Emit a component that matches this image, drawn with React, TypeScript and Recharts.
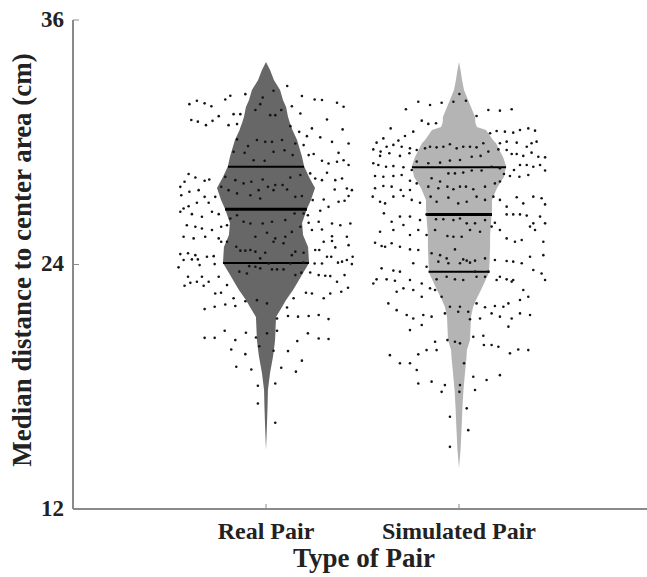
import React from 'react';
import { ComposedChart, Area, Scatter, XAxis, YAxis, ReferenceLine } from 'recharts';

const categories = ['Real Pair', 'Simulated Pair'];
const categoryPositions = [1, 2];
const yTicks = [12, 24, 36];

// violin outline: value levels and half widths (in x units) for each group
const violinLevels = [33.94, 33.55, 33.06, 32.56, 32.07, 31.73, 31.25, 30.94, 30.75, 30.6, 30.11, 29.95, 29.28, 28.83, 28.29, 27.75, 27.17, 26.72, 26.04, 25.45, 24.86, 24.07, 23.58, 23.08, 22.75, 22.26, 21.91, 21.42, 20.29, 19.8, 19.46, 18.67, 17.84, 17.01, 15.88, 14.9, 14.0];
const realHalfWidth = [0, 0.021, 0.041, 0.073, 0.088, 0.104, 0.114, 0.124, 0.132, 0.137, 0.161, 0.166, 0.187, 0.197, 0.223, 0.254, 0.233, 0.212, 0.187, 0.192, 0.218, 0.223, 0.192, 0.161, 0.14, 0.104, 0.083, 0.052, 0.047, 0.041, 0.036, 0.021, 0.01, 0.008, 0.004, 0, 0];
const simHalfWidth = [0, 0.008, 0.016, 0.026, 0.047, 0.062, 0.083, 0.085, 0.093, 0.14, 0.176, 0.192, 0.228, 0.244, 0.233, 0.197, 0.171, 0.171, 0.166, 0.161, 0.161, 0.158, 0.155, 0.13, 0.114, 0.088, 0.073, 0.062, 0.057, 0.041, 0.039, 0.031, 0.023, 0.018, 0.013, 0.008, 0];

// quartiles (Q1, median, Q3) and violin half width at them
const realQuartiles = [24.07, 26.71, 28.8];
const realQuartileHalfWidth = [0.223, 0.212, 0.197];
const simQuartiles = [23.65, 26.46, 28.77];
const simQuartileHalfWidth = [0.158, 0.171, 0.244];

// jittered observations: [offset from category centre, value]
const realJitter: [number, number][] = [
  [0.11, 32.76], [-0.397, 31.87], [-0.358, 32.04], [-0.318, 31.91], [-0.283, 31.77], [-0.211, 32.1], [-0.185, 32.28], [-0.107, 32.36], [-0.017, 32.2], [0.039, 32.53],
  [0.186, 32.27], [0.252, 32.1], [0.29, 32.07], [0.368, 31.94], [0.402, 31.74], [0.134, 31.77], [0.178, 31.41], [0.048, 31.33], [0.022, 31.33], [0.079, 31.58],
  [-0.03, 31.87], [-0.055, 31.58], [-0.133, 31.38], [-0.168, 31.38], [-0.245, 31.28], [-0.277, 31.05], [-0.311, 30.84], [-0.353, 31.01], [-0.387, 31.09], [-0.194, 30.84],
  [-0.15, 30.89], [0.126, 30.79], [0.172, 30.51], [0.238, 30.68], [0.316, 31.12], [0.397, 30.63], [0.428, 29.94], [0.342, 30.02], [0.281, 30.24], [0.212, 30.3],
  [0.195, 29.86], [0.152, 29.94], [0.083, 30.11], [0.031, 30.02], [-0.004, 30.02], [-0.047, 30.11], [-0.093, 29.81], [-0.15, 30.14], [-0.168, 29.53], [-0.111, 29.48],
  [-0.064, 29.12], [-0.007, 29.09], [0.039, 29.53], [0.096, 29.61], [0.138, 29.37], [0.221, 29.37], [0.247, 29.42], [0.376, 29.48], [0.402, 29.12], [0.428, 28.88],
  [0.29, 29.09], [0.324, 28.96], [0.368, 29.04], [0.316, 28.5], [0.359, 28.14], [0.394, 28.22], [0.419, 27.73], [0.445, 27.65], [0.356, 27.68], [0.29, 28.14],
  [0.255, 28.22], [0.229, 28.47], [0.178, 28.39], [0.126, 28.27], [0.086, 27.9], [0.048, 27.9], [0.01, 27.81], [-0.017, 28.17], [-0.038, 27.65], [-0.076, 28.06],
  [-0.116, 27.98], [-0.159, 28.14], [-0.211, 28.3], [-0.232, 27.81], [-0.194, 27.65], [-0.15, 27.49], [-0.081, 27.4], [-0.03, 27.24], [0.039, 27.65], [0.109, 27.68],
  [0.152, 27.32], [0.186, 27.36], [-0.294, 28.17], [-0.318, 28.11], [-0.366, 28.27], [-0.401, 28.44], [-0.422, 28.06], [-0.444, 27.81], [-0.439, 27.4], [-0.397, 27.57],
  [-0.349, 27.65], [-0.318, 27.32], [-0.263, 27.32], [-0.297, 27.03], [-0.358, 27.03], [-0.401, 26.86], [-0.427, 26.75], [-0.444, 26.59], [-0.384, 26.47], [-0.332, 26.34],
  [-0.28, 26.59], [-0.245, 26.47], [-0.185, 26.26], [-0.15, 26.42], [-0.116, 26.1], [-0.081, 26.01], [-0.017, 26.01], [0.031, 26.1], [0.1, 26.18], [0.148, 26.5],
  [0.195, 26.5], [0.217, 26.42], [0.281, 26.64], [0.324, 26.83], [0.376, 27.08], [0.407, 27.13], [0.428, 27.36], [0.299, 27.19], [0.242, 27.16], [0.221, 26.05],
  [0.273, 26.1], [0.342, 26.01], [0.385, 25.93], [0.419, 25.36], [0.437, 26.01], [-0.41, 25.93], [-0.366, 25.85], [-0.332, 25.77], [-0.28, 25.69], [-0.232, 25.85],
  [-0.202, 25.93], [-0.427, 25.36], [-0.375, 25.28], [-0.315, 25.36], [-0.245, 25.28], [-0.055, 25.36], [0.005, 25.56], [0.048, 25.28], [0.1, 25.36], [0.134, 25.6],
  [0.178, 25.85], [0.238, 25.69], [0.29, 25.72], [0.342, 25.39],
  [0.048, 16.23], [-0.042, 17.18], [-0.042, 18.05], [0.048, 18.16], [-0.154, 18.98], [-0.076, 18.85], [0.079, 18.93], [0.155, 18.74], [0.186, 19.28], [-0.107, 19.6],
  [-0.18, 19.83], [0.039, 19.77], [0.114, 19.75], [-0.159, 20.29], [0.162, 20.24], [-0.318, 20.4], [-0.266, 20.4], [-0.214, 20.75], [-0.104, 20.65], [-0.052, 20.42],
  [0.005, 20.62], [0.057, 20.75], [0.217, 20.62], [0.273, 20.37], [0.324, 20.34], [-0.035, 19.99], [-0.318, 21.81], [-0.266, 21.93], [-0.211, 22.04], [-0.159, 21.96],
  [0.114, 21.47], [0.166, 21.44], [0.221, 21.47], [0.273, 21.52], [0.324, 21.32], [0.057, 21.35], [0.005, 22.09], [0.109, 21.89], [-0.107, 22.2], [-0.047, 22.25],
  [-0.263, 22.58], [-0.233, 22.61], [0.143, 22.34], [0.207, 22.61], [0.238, 22.58], [0.299, 22.34], [0.333, 22.58], [0.39, 22.66], [0.425, 22.86], [-0.168, 22.34],
  [-0.202, 22.99], [-0.323, 22.96], [-0.358, 23.15], [-0.392, 23.1], [-0.422, 22.96], [-0.297, 23.15], [-0.332, 23.4], [-0.404, 23.4], [-0.245, 23.4], [-0.138, 23.65],
  [-0.099, 23.56], [0.031, 23.76], [0.057, 23.76], [0.091, 23.76], [0.152, 23.48], [0.183, 23.6], [0.229, 23.61], [0.273, 23.48], [0.307, 23.45], [0.333, 23.43],
  [0.368, 23.15], [0.407, 23.48], [-0.453, 23.86], [-0.444, 24.51], [-0.404, 24.55], [-0.366, 24.46], [-0.353, 24.25], [-0.384, 24.25], [-0.427, 24.22], [-0.344, 23.97],
  [-0.306, 24.38], [-0.271, 24.41], [-0.266, 24.02], [-0.232, 25.12], [-0.202, 25.12], [-0.154, 24.87], [-0.133, 24.68], [-0.107, 24.68], [-0.081, 24.71], [-0.055, 24.63],
  [-0.03, 24.3], [0.014, 24.05], [-0.087, 23.92], [-0.055, 23.89], [-0.03, 23.81], [0.134, 24.46], [0.152, 24.63], [0.195, 24.58], [0.195, 24.09], [0.126, 24.05],
  [-0.004, 24.58], [0.039, 25.12], [0.091, 25.04], [0.255, 24.71], [0.276, 24.71], [0.252, 24.05], [0.29, 24.05], [0.316, 24.38], [0.338, 24.38], [0.373, 24.09],
  [0.394, 24.14], [0.419, 24.22], [0.445, 24.02], [0.449, 24.38], [0.428, 24.95], [0.359, 24.84], [0.299, 25.12], [0.342, 25.15],
];

const simJitter: [number, number][] = [
  [0.002, 32.37], [-0.029, 31.99], [0.036, 32.04], [-0.211, 31.99], [-0.15, 31.83], [-0.09, 31.94], [-0.275, 31.62], [0.152, 31.58], [0.212, 31.55], [0.273, 31.62],
  [0.091, 31.29], [-0.193, 31.06], [-0.159, 30.9], [-0.119, 30.93], [-0.354, 30.68], [-0.237, 30.52], [-0.28, 30.31], [-0.314, 30.08], [-0.392, 30.19], [-0.427, 29.98],
  [-0.444, 29.65], [-0.406, 29.54], [-0.375, 29.78], [-0.34, 29.87], [-0.297, 29.78], [-0.254, 29.7], [-0.219, 29.62], [-0.176, 29.7], [-0.15, 29.78], [-0.116, 29.75],
  [-0.081, 29.78], [-0.047, 29.9], [-0.012, 29.7], [0.022, 29.78], [0.057, 29.78], [0.091, 29.75], [0.126, 29.95], [0.161, 30.44], [0.195, 30.55], [0.238, 30.52],
  [0.281, 30.47], [0.316, 30.6], [0.359, 30.68], [0.394, 30.57], [0.247, 30.03], [0.212, 29.95], [0.299, 29.98], [0.351, 29.78], [0.376, 29.95], [0.402, 30.03],
  [0.273, 29.42], [0.299, 29.42], [0.333, 29.33], [0.376, 29.49], [0.411, 29.29], [0.446, 29.26], [0.247, 29.62], [0.204, 29.65], [0.152, 29.54], [0.112, 29.33],
  [0.066, 29.29], [0.005, 29.13], [-0.047, 29.1], [-0.098, 29.0], [-0.159, 28.97], [-0.219, 29.05], [-0.257, 29.46], [-0.306, 29.33], [-0.361, 29.46], [-0.409, 29.33],
  [-0.444, 28.97], [-0.418, 28.88], [-0.378, 28.8], [-0.34, 28.83], [-0.288, 28.77], [-0.245, 28.64], [-0.435, 28.34], [-0.392, 28.31], [-0.34, 28.34], [-0.297, 28.39],
  [-0.254, 28.11], [-0.219, 27.98], [-0.142, 28.23], [-0.098, 28.07], [-0.055, 28.47], [-0.021, 28.47], [0.022, 28.51], [0.066, 28.61], [0.117, 28.61], [0.169, 28.8],
  [0.212, 28.72], [0.233, 28.44], [0.285, 28.64], [0.316, 28.88], [0.351, 28.88], [0.385, 28.8], [0.42, 28.88], [0.446, 28.61], [0.359, 28.39], [0.313, 28.31],
  [0.264, 28.34], [0.212, 28.07], [0.186, 27.98], [0.135, 27.82], [0.074, 27.69], [0.036, 27.82], [0.005, 27.82], [-0.029, 27.69], [-0.06, 27.82], [-0.107, 27.74],
  [-0.159, 27.82], [-0.254, 27.66], [-0.302, 27.66], [-0.349, 27.82], [-0.392, 27.85], [-0.435, 27.74], [-0.447, 27.33], [-0.409, 27.08], [-0.383, 27.0], [-0.34, 27.33],
  [-0.288, 27.36], [-0.245, 27.17], [-0.202, 27.03], [-0.147, 27.33], [-0.116, 27.08], [-0.055, 27.28], [-0.004, 27.0], [0.04, 27.08], [0.091, 27.33], [0.135, 27.17],
  [0.178, 27.33], [0.212, 27.17], [0.247, 26.84], [0.299, 27.3], [0.333, 27.0], [0.385, 27.33], [0.428, 27.25], [0.446, 26.95], [-0.389, 26.51], [-0.349, 26.1],
  [-0.306, 26.35], [-0.254, 26.35], [-0.202, 26.18], [-0.168, 26.46], [-0.119, 26.22], [-0.081, 26.22], [-0.029, 26.18], [0.005, 26.26], [0.04, 26.02], [0.083, 26.02],
  [0.135, 26.18], [0.186, 26.05], [0.247, 26.46], [0.281, 26.46], [0.316, 26.46], [0.351, 26.4], [0.385, 26.02], [0.42, 26.35], [0.446, 26.02], [-0.409, 25.61],
  [-0.34, 25.69], [-0.288, 25.94], [-0.254, 25.45], [-0.211, 25.69], [-0.168, 25.45], [-0.124, 25.69], [-0.06, 25.4], [-0.029, 25.36], [0.014, 25.36], [0.057, 25.69],
  [0.109, 25.61], [0.169, 25.86], [0.212, 25.69], [0.247, 25.28], [0.29, 25.12], [0.325, 25.2], [0.368, 25.86], [0.394, 25.69], [0.437, 25.12], [-0.435, 25.07],
  [-0.401, 24.91], [-0.383, 24.87], [-0.349, 25.04], [-0.306, 24.87], [-0.254, 24.74], [-0.211, 24.71], [-0.142, 24.55], [-0.098, 24.46], [-0.064, 24.3], [-0.021, 24.74],
  [0.022, 24.25], [0.057, 24.09], [0.083, 24.19], [0.135, 24.3], [0.186, 24.22], [0.247, 24.17], [0.281, 24.14], [0.325, 24.06], [0.368, 24.38], [0.437, 24.46],
  [-0.401, 23.81], [-0.34, 23.7], [-0.306, 23.65], [-0.237, 24.06], [-0.168, 23.89], [-0.107, 24.14], [-0.055, 24.06], [0.005, 24.06], [0.04, 24.19], [0.083, 23.65],
  [0.152, 23.65], [0.212, 23.4], [0.247, 23.27], [0.281, 23.24], [-0.427, 23.27], [-0.444, 23.07], [-0.375, 23.27], [-0.332, 23.2], [-0.288, 22.83], [-0.254, 23.24],
  [-0.193, 23.07], [-0.15, 22.83], [-0.116, 23.27], [-0.064, 23.4], [-0.021, 23.27], [0.022, 23.24], [0.091, 23.4], [0.135, 23.4], [0.195, 23.24], [0.273, 23.16],
  [0.333, 22.75], [0.385, 23.73], [0.428, 23.56], [0.446, 23.24], [0.359, 22.42], [0.316, 22.26], [0.256, 22.09], [0.23, 21.93], [0.186, 21.96], [0.135, 21.9],
  [0.091, 22.09], [0.048, 21.68], [0.005, 21.93], [-0.047, 21.93], [-0.09, 22.42], [-0.124, 22.75], [-0.193, 22.42], [-0.237, 22.75], [-0.323, 22.66], [-0.366, 22.09],
  [-0.323, 21.76], [-0.271, 21.52], [-0.237, 21.35], [-0.185, 21.52], [-0.142, 21.44], [-0.073, 21.6], [-0.004, 21.68], [0.057, 21.31], [0.109, 21.35], [0.169, 21.6],
  [0.212, 21.44], [0.273, 21.35], [0.316, 21.6], [0.368, 21.52], [0.256, 20.95], [-0.254, 20.78], [-0.193, 21.03], [-0.358, 19.55], [-0.306, 19.15], [-0.254, 19.15],
  [-0.211, 19.59], [-0.168, 19.8], [-0.116, 19.8], [-0.06, 20.29], [-0.021, 20.21], [0.005, 20.13], [0.074, 20.45], [0.126, 20.5], [0.129, 20.05], [0.169, 20.05],
  [0.204, 19.96], [0.264, 19.64], [0.307, 19.83], [0.359, 19.8], [-0.124, 20.21], [-0.219, 18.82], [-0.211, 18.16], [-0.142, 18.25], [-0.073, 18.08], [-0.09, 17.75],
  [0.005, 18.08], [0.002, 17.75], [0.083, 17.84], [0.074, 18.49], [0.143, 18.33], [0.212, 18.57], [0.04, 16.94], [-0.047, 16.53], [0.048, 15.87], [-0.047, 15.05],
  [0.026, 19.15],
];

const REAL_FILL = '#676767';
const SIM_FILL = '#b4b4b4';
const AXIS_COLOR = '#8a8a8a';
const FONT = '"Liberation Serif", "Times New Roman", serif';

const violinData = violinLevels.map((y, i) => ({
  y,
  real: [categoryPositions[0] - realHalfWidth[i], categoryPositions[0] + realHalfWidth[i]],
  sim: [categoryPositions[1] - simHalfWidth[i], categoryPositions[1] + simHalfWidth[i]],
}));

const realPoints = realJitter.map(([dx, y]) => ({ x: categoryPositions[0] + dx, y }));
const simPoints = simJitter.map(([dx, y]) => ({ x: categoryPositions[1] + dx, y }));

const quartileSegments = [
  ...realQuartiles.map((q, i) => ({ c: categoryPositions[0], q, w: realQuartileHalfWidth[i], median: i === 1 })),
  ...simQuartiles.map((q, i) => ({ c: categoryPositions[1], q, w: simQuartileHalfWidth[i], median: i === 1 })),
];

const Dot = (p: any) => <circle cx={p.cx} cy={p.cy} r={1.3} fill="#141414" />;

const XTick = (p: any) => {
  const idx = categoryPositions.indexOf(p.payload.value);
  return (
    <g>
      <line x1={p.x} x2={p.x} y1={p.y} y2={p.y - 5} stroke={AXIS_COLOR} strokeWidth={1} />
      <text x={p.x} y={p.y + 30} textAnchor="middle" fontFamily={FONT} fontWeight="bold" fontSize={24} fill="#222">
        {categories[idx]}
      </text>
    </g>
  );
};

const YTick = (p: any) => (
  <g>
    <line x1={p.x} x2={p.x + 6} y1={p.y} y2={p.y} stroke={AXIS_COLOR} strokeWidth={1} />
    <text x={p.x - 9} y={p.y + 6.5} textAnchor="end" fontFamily={FONT} fontWeight="bold" fontSize={23} fill="#222">
      {p.payload.value}
    </text>
  </g>
);

const XTitle = () => (
  <text x={364} y={567} textAnchor="middle" fontFamily={FONT} fontWeight="bold" fontSize={27} fill="#222">
    Type of Pair
  </text>
);

const YTitle = () => (
  <text x={31} y={260} transform="rotate(-90 31 260)" textAnchor="middle" fontFamily={FONT} fontWeight="bold" fontSize={27} fill="#222">
    Median distance to center area (cm)
  </text>
);

export default function App() {
  return (
    <div style={{ position: 'absolute', left: 0, top: 0, width: 647, height: 577, overflow: 'hidden', background: '#fff' }}>
      <ComposedChart
        width={652}
        height={577}
        layout="vertical"
        data={violinData}
        margin={{ top: 20, right: 0, bottom: 0, left: 0 }}
      >
        <XAxis
          type="number"
          dataKey="x"
          domain={[0, 3]}
          allowDataOverflow
          ticks={categoryPositions}
          interval={0}
          tickSize={0}
          tickMargin={0}
          height={68}
          axisLine={{ stroke: AXIS_COLOR, strokeWidth: 2 }}
          tickLine={false}
          tick={<XTick />}
          label={XTitle}
        />
        <YAxis
          type="number"
          dataKey="y"
          domain={[12, 36]}
          allowDataOverflow
          reversed
          ticks={yTicks}
          interval={0}
          tickSize={0}
          tickMargin={0}
          width={73}
          axisLine={{ stroke: AXIS_COLOR, strokeWidth: 2 }}
          tickLine={false}
          tick={<YTick />}
          label={YTitle}
        />
        <Area
          dataKey="real"
          type="linear"
          stroke="none"
          fill={REAL_FILL}
          fillOpacity={1}
          dot={false}
          activeDot={false}
          isAnimationActive={false}
        />
        <Area
          dataKey="sim"
          type="linear"
          stroke="none"
          fill={SIM_FILL}
          fillOpacity={1}
          dot={false}
          activeDot={false}
          isAnimationActive={false}
        />
        {quartileSegments.map((s, i) => (
          <ReferenceLine
            key={i}
            segment={[{ x: s.c - s.w, y: s.q }, { x: s.c + s.w, y: s.q }]}
            stroke="#000"
            strokeWidth={s.median ? 3 : 2}
          />
        ))}
        <Scatter data={realPoints} shape={Dot} isAnimationActive={false} />
        <Scatter data={simPoints} shape={Dot} isAnimationActive={false} />
      </ComposedChart>
    </div>
  );
}
